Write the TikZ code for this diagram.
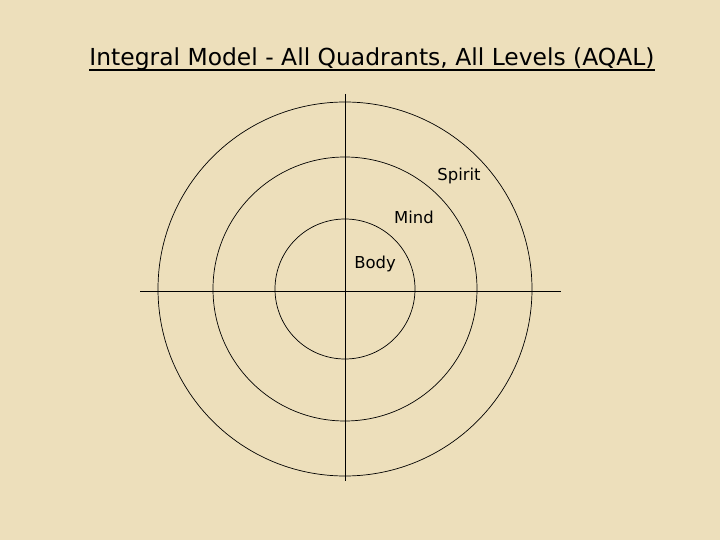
\documentclass[tikz,border=0pt]{standalone}
\usepackage{fontspec}
\setmainfont{DejaVu Sans}
\definecolor{paper}{RGB}{237,223,187}
\begin{document}
\begin{tikzpicture}[x=1bp,y=-1bp]
            \def\cx{345}%tâm x
            \def\cy{289}%tâm y
            \fill[paper] (0,0) rectangle (720,540);
            \useasboundingbox (0,0) rectangle (720,540);
            \coordinate (O) at (\cx,\cy);
            \coordinate (N) at (\cx,94);
            \coordinate (S) at (\cx,481);
            \coordinate (W) at (140,291);
            \coordinate (E) at (561,291);
            \draw[line width=0.9pt] (N)--(S) (W)--(E);
            \foreach \r in {70,132,187}
                \draw[line width=0.7pt] (O) circle (\r);
            \path
            (372,66) node[anchor=base,inner xsep=0pt,font=\fontsize{23.5}{26}\selectfont] (title) {Integral Model - All Quadrants, All Levels (AQAL)}
            (459,176) node[font=\fontsize{16.5}{18}\selectfont] (spirit) {Spirit}
            (414,217) node[font=\fontsize{16.5}{18}\selectfont] (mind) {Mind}
            (375,264) node[font=\fontsize{16.5}{18}\selectfont] (body) {Body}
            ;
            \draw[line width=1.1pt] ([yshift=-4bp]title.base west)--([yshift=-4bp]title.base east);
\end{tikzpicture}
\end{document}
